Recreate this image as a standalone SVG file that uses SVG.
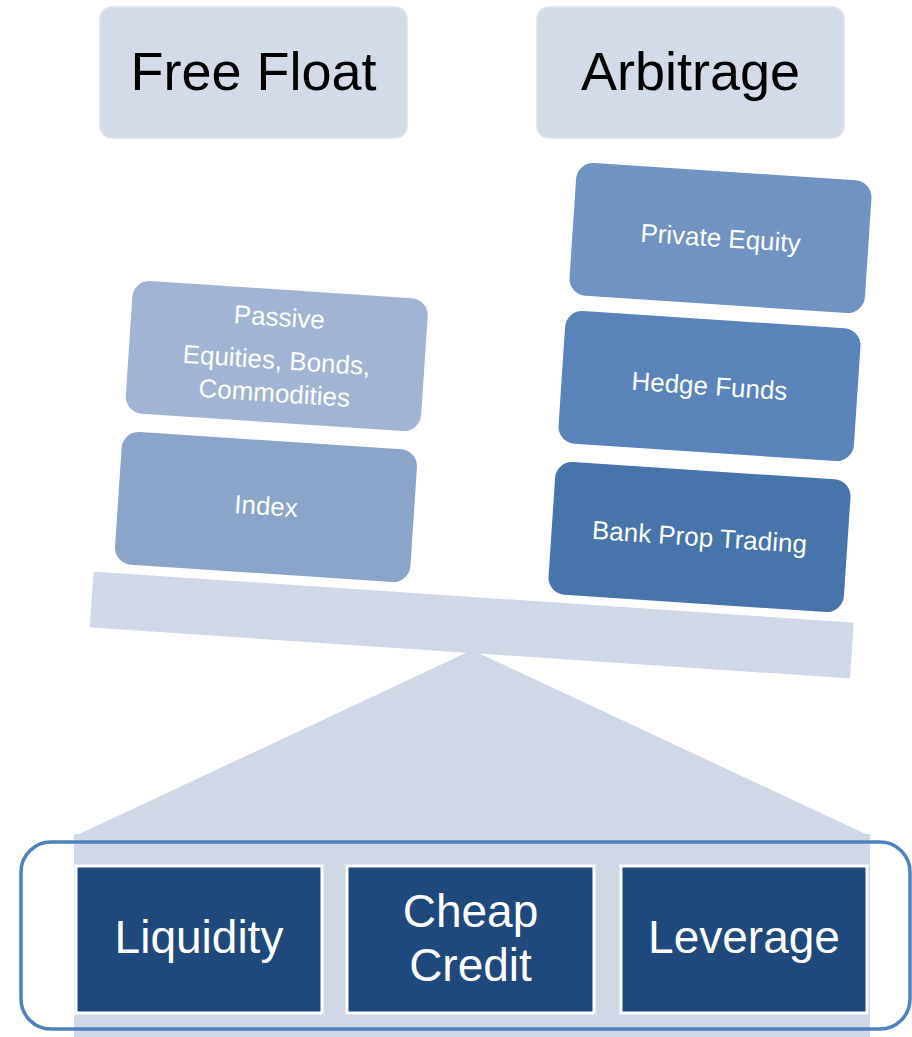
<svg xmlns="http://www.w3.org/2000/svg" width="912" height="1037" viewBox="0 0 912 1037">
<style>
.hdr{fill:#D3DBE8;stroke:#DCE3EE;stroke-width:1.5}
.hdrt{font-family:"Liberation Sans",Arial,sans-serif;font-size:54px;fill:#000;text-anchor:middle}
.blk{stroke:none}
.bt{font-family:"Liberation Sans",Arial,sans-serif;font-size:26px;fill:#fff;text-anchor:middle}
.base{fill:#D0D8E8}
.pill{fill:#1F497D;stroke:#fff;stroke-width:3}
.pt{font-family:"Liberation Sans",Arial,sans-serif;font-size:46px;fill:#fff;text-anchor:middle}
</style>
<rect width="912" height="1037" fill="#fff"/>
<g id="free-float">
<rect class="hdr" x="100" y="7" width="307" height="131" rx="12"/>
<text class="hdrt" x="253.5" y="90">Free Float</text>
</g>
<g id="arbitrage">
<rect class="hdr" x="537" y="7" width="307" height="131" rx="12"/>
<text class="hdrt" x="690.5" y="90">Arbitrage</text>
</g>
<g id="passive" transform="translate(276.75,356) rotate(3.8)">
<rect class="blk" x="-148" y="-66.5" width="296" height="133" rx="17" fill="#A1B4D3"/>
<text class="bt" x="0" y="-30">Passive</text>
<text class="bt" x="0" y="13">Equities, Bonds,</text>
<text class="bt" x="0" y="46">Commodities</text>
</g>
<g id="index" transform="translate(266,507) rotate(3.8)">
<rect class="blk" x="-148" y="-66.5" width="296" height="133" rx="17" fill="#8AA4CA"/>
<text class="bt" x="0" y="8">Index</text>
</g>
<g id="private-equity" transform="translate(720.5,238) rotate(3.8)">
<rect class="blk" x="-148" y="-66.5" width="296" height="133" rx="17" fill="#7193C1"/>
<text class="bt" x="0" y="9">Private Equity</text>
</g>
<g id="hedge-funds" transform="translate(709.5,386) rotate(3.8)">
<rect class="blk" x="-148" y="-66.5" width="296" height="133" rx="17" fill="#5A84B9"/>
<text class="bt" x="0" y="9">Hedge Funds</text>
</g>
<g id="bank-prop" transform="translate(699.5,537) rotate(3.8)">
<rect class="blk" x="-148" y="-66.5" width="296" height="133" rx="17" fill="#4774AA"/>
<text class="bt" x="0" y="9">Bank Prop Trading</text>
</g>
<g id="fulcrum">
<polygon class="base" points="472,650 75,836 870,836"/>
</g>
<g id="beam">
<rect class="base" x="-381" y="-28" width="762" height="56" rx="2" transform="translate(471.75,625) rotate(3.84)"/>
</g>
<g id="foundation">
<rect class="base" x="74" y="834" width="796" height="203"/>
<rect x="21" y="842" width="889" height="187" rx="30" fill="none" stroke="#4F81BD" stroke-width="3.5"/>
</g>
<g id="liquidity">
<rect class="pill" x="76" y="866" width="246" height="147"/>
<text class="pt" x="199" y="953">Liquidity</text>
</g>
<g id="cheap-credit">
<rect class="pill" x="347" y="866" width="247" height="147"/>
<text class="pt" x="470.5" y="927">Cheap</text>
<text class="pt" x="470.5" y="981">Credit</text>
</g>
<g id="leverage">
<rect class="pill" x="621" y="866" width="246" height="147"/>
<text class="pt" x="744" y="953">Leverage</text>
</g>
<g id="connectors"/>
</svg>
